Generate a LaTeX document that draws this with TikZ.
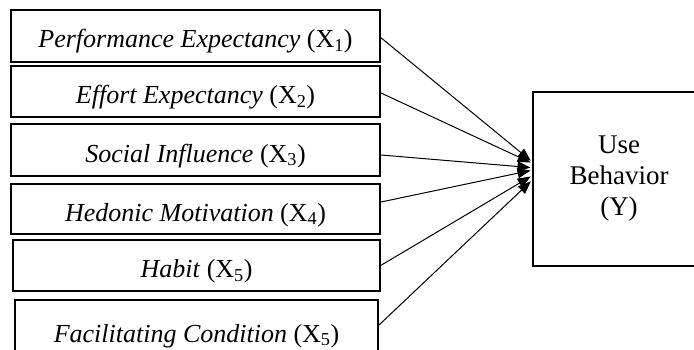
\documentclass[tikz,border=0pt]{standalone}
\usepackage{fontspec}
\setmainfont{Liberation Serif}
\usetikzlibrary{arrows.meta}
\tikzset{
  varbox/.style={draw=black, line width=2pt, rectangle, inner sep=0pt,
    text height=27pt, text depth=3pt, font=\fontsize{26}{31}\selectfont},
  ybox/.style={draw=black, line width=2pt, rectangle, inner sep=0pt,
    align=center, font=\fontsize{27}{31}\selectfont},
  link/.style={draw=black, line width=1pt, shorten >=1.5pt,
    -{Triangle[length=13pt,width=10pt]}}
}
\begin{document}
\begin{tikzpicture}[x=1pt,y=-1pt]
\useasboundingbox (0,0) rectangle (694,349);
\clip (0,0) rectangle (694,349);
\node[varbox, minimum width=369pt, minimum height=51.5pt] (b1) at (195.5,35.75)
  {\textit{Performance Expectancy} (X\textsubscript{1})};
\node[varbox, minimum width=369pt, minimum height=51pt] (b2) at (195.5,91.5)
  {\textit{Effort Expectancy} (X\textsubscript{2})};
\node[varbox, minimum width=369pt, minimum height=52pt] (b3) at (195.5,150)
  {\textit{Social Influence} (X\textsubscript{3})};
\node[varbox, minimum width=369pt, minimum height=50pt] (b4) at (195.5,209)
  {\textit{Hedonic Motivation} (X\textsubscript{4})};
\node[varbox, minimum width=367pt, minimum height=50.7pt] (b5) at (196.5,265.3)
  {\textit{Habit} (X\textsubscript{5})};
\node[varbox, minimum width=363pt, minimum height=60pt] (b6) at (196.5,330)
  {\textit{Facilitating Condition} (X\textsubscript{5})};
\node[ybox, minimum width=172pt, minimum height=174pt] (y) at (619,178.7)
  {Use\\Behavior\\(Y)};
\draw[link] ([yshift=-2pt]b1.east) -- ([yshift=17pt]y.west);
\draw[link] ([yshift=-1.5pt]b2.east) -- ([yshift=15.5pt]y.west);
\draw[link] ([yshift=-5pt]b3.east) -- ([yshift=11pt]y.west);
\draw[link] ([yshift=7pt]b4.east) -- ([yshift=8.5pt]y.west);
\draw[link] (b5.east) -- ([yshift=3pt]y.west);
\draw[link] ([yshift=5pt]b6.east) -- ([yshift=-1.5pt]y.west);
\end{tikzpicture}
\end{document}
